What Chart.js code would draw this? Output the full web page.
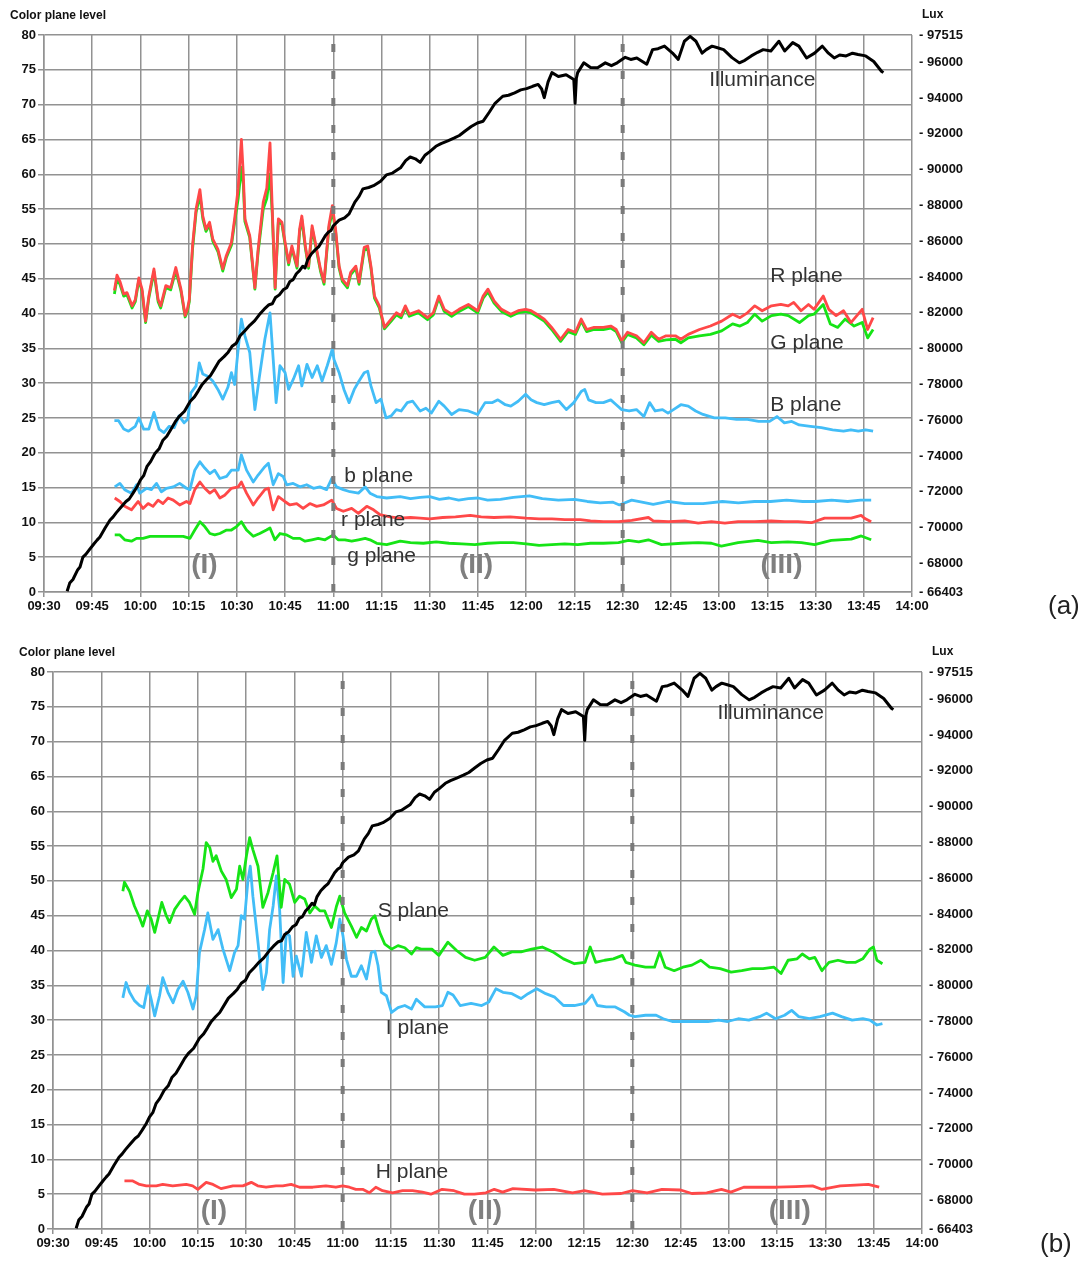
<!DOCTYPE html>
<html>
<head>
<meta charset="utf-8">
<script src="https://cdn.jsdelivr.net/npm/chart.js@4.4.0/dist/chart.umd.min.js"></script>
<style>
  body { margin: 0; background: #fff; }
  #wrap { position: relative; width: 1088px; height: 1262px; }
  .panel { position: absolute; left: 0; }
</style>
</head>
<body>
<div id="wrap">
  <div class="panel" style="top:0"><canvas id="chartA" width="1088" height="632"></canvas></div>
  <div class="panel" style="top:632px"><canvas id="chartB" width="1088" height="630"></canvas></div>
</div>
<script>
// x values are minutes after 09:30
const timeTicksStep = 15;
const phaseBreaks = [90, 180]; // 11:00 and 12:30
const luxTicks = [66403, 68000, 70000, 72000, 74000, 76000, 78000, 80000, 82000, 84000, 86000, 88000, 90000, 92000, 94000, 96000, 97515];
const phaseNames = ['(I)', '(II)', '(III)'];

// Illuminance (Lux), same record on both panels
const illuminance = [
  [7.2,66442],[8,66900],[9,67100],[10.5,67650],[11.2,67800],[12.1,68348],[13,68500],[14,68740],[15.5,69085],[16.5,69300],
  [17.4,69475],[19,69980],[20.5,70409],[21.5,70600],[22.5,70836],[24,71150],[25.5,71460],[26.5,71600],[27.7,71925],
  [29,72300],[30,72665],[31,72900],[32,73403],[33.2,73700],[34.5,74140],[35.8,74400],[37,74881],[38.2,75100],[39.5,75500],
  [40.8,75900],[42,76200],[43.7,76500],[45.5,77059],[46.8,77300],[48,77640],[49.2,78000],[50.5,78260],[51.8,78500],
  [53,78850],[54.5,79300],[56,79550],[57.3,79800],[58.5,80130],[59.8,80300],[61,80714],[62.5,81000],[64,81300],
  [65.5,81550],[67,81900],[68.5,82200],[70,82450],[71,82500],[72,82850],[73.2,83000],[74.4,83281],[75.5,83400],
  [76.5,83750],[77.5,83850],[78.5,84180],[79.5,84350],[80.5,84600],[81.2,84500],[82,84953],[83.2,85300],[84.5,85540],
  [85.5,85700],[86.5,86000],[87.5,86300],[88.5,86510],[89.3,86600],[90,86860],[91.8,87170],[93.5,87300],[94.9,87520],
  [96.7,88181],[98,88500],[99.2,88920],[101,88998],[102.5,89100],[104.7,89350],[106.5,89700],[108.4,89800],[110.9,90100],
  [112.5,90500],[113.9,90700],[115.5,90600],[117,90400],[118.5,90800],[120,91000],[121.9,91300],[123.5,91450],
  [125.6,91600],[127.5,91750],[129.2,91900],[131,92150],[132.9,92400],[134.8,92600],[136.6,92700],[138.5,93200],
  [140.3,93700],[142.7,94093],[144.5,94150],[146.4,94287],[148.3,94450],[150.1,94521],[152,94650],[153.7,94754],
  [154.8,94500],[155.6,94015],[156.8,94900],[158,95415],[160,95200],[162.4,95298],[164.8,95026],[165.2,93700],
  [165.6,95100],[166,95415],[167.9,95959],[170,95700],[172.2,95687],[174.6,95959],[176.5,95800],[178.3,95959],
  [180.8,96270],[182.5,96150],[184.4,96232],[186,96050],[187.5,95882],[189.3,96698],[191,96750],[193,96893],
  [195.5,96504],[197.3,96153],[199.2,97165],[201,97437],[202.8,97165],[204.7,96504],[206,96700],[207.8,96893],
  [209.5,96800],[211.4,96698],[214,96250],[216.3,95959],[218,96100],[220,96348],[222,96550],[223.7,96698],[226.1,96620],
  [228.6,97165],[230.4,96620],[232.9,97087],[234.8,96893],[237.2,96232],[239.7,96504],[242.1,96893],[244,96500],
  [245.8,96232],[247.5,96400],[249.5,96348],[251.5,96500],[253.2,96426],[255.6,96348],[258.1,96037],[260.5,95493],
  [261.1,95415]
];

// panel (a): R, G, B planes
const rPlane = [
  [21.9,43.3],[22.7,45.5],[23.7,44.5],[24.8,42.8],[25.8,43],[27.4,41.1],[28.4,42],[29.5,45.1],[30.5,43.5],[31.6,38.9],
  [32.6,42.5],[34.2,46.4],[35.5,42],[36.3,41.1],[37.9,44],[39.4,43.7],[41,46.6],[42.6,43.5],[43.9,39.7],[44.6,40.6],
  [45.2,42],[46.2,49.7],[47.3,55],[48.5,57.8],[49.4,54],[50.4,52.1],[51.5,53.1],[52.5,50.7],[54.1,49.2],[55.6,46.4],
  [56.7,48.3],[58.3,50.2],[59.3,53.6],[60.4,58],[61.4,65],[62,60],[62.5,53.6],[64,51.2],[65.6,43.7],[66.6,49.2],
  [68.2,56],[69.3,58],[70.3,64.5],[71,55],[71.9,43.7],[72.9,53.6],[74,53.1],[75,50.2],[76.1,47.3],[77.1,49.7],
  [78.7,46.8],[79.5,52.1],[80.2,54],[81.3,49.7],[82.3,46.8],[83.4,52.6],[84.4,50.2],[86,46.4],[87.1,44.5],[88.6,52.6],
  [89.7,55.5],[90.7,52.1],[91.8,46.8],[92.8,44.9],[94.4,44],[95.4,45.9],[97,46.8],[98,44.5],[99.6,49.5],[100.7,49.7],
  [101.7,46.8],[102.8,42.5],[104.3,41.1],[105.9,38],[108,39.2],[109.6,40.1],[111.1,39.7],
  [112.4,41.1],[113.6,39.9],[116.5,40.4],[119.3,39.4],[121.1,40.1],[122.8,42.5],[124.5,40.6],[126.8,39.9],[129.1,40.6],
  [132,41.3],[134.9,40.4],[136.6,42.5],[138.1,43.5],[140,41.8],[142.3,40.6],[145.2,39.9],[147.5,40.4],[149.8,40.6],
  [151.5,40.4],[153.3,39.9],[155.6,39.2],[157.9,38],[160.7,36.3],[163,37.7],[165.3,37.3],[167.1,39.2],[168.8,37.7],
  [171.1,38],[174,38],[176.3,38.2],[178,37.7],[179.7,36.1],[181.5,37.3],[184.3,36.8],[186.6,35.8],[188.9,37.3],
  [191.2,36.3],[193.5,36.8],[196.4,36.8],[198.1,36.3],[200.4,37],[203.9,37.7],[207.3,38.2],[210.8,38.9],[214.2,39.9],
  [216.5,39.4],[218.8,40.1],[221.1,41.1],[223.4,40.4],[226.3,41.1],[229.2,41.3],[231.5,41.1],[233.2,41.6],[235.5,40.4],
  [237.8,41.3],[239.5,40.6],[242.4,42.5],[244.1,40.6],[246.4,39.7],[248.7,40.4],[251,38.7],[254.5,40.6],[256.2,37.7],
  [257.9,39.4]
];
const gPlane = [
  [21.9,42.8],[22.7,45],[23.7,44.1],[24.8,42.5],[25.8,42.7],[27.4,40.8],[28.4,41.7],[29.5,44.8],[30.5,43.2],[31.6,38.7],
  [32.6,42.2],[34.2,46],[35.5,41.7],[36.3,40.8],[37.9,43.7],[39.4,43.4],[41,46.2],[42.6,43.2],[43.9,39.5],[44.6,40.3],
  [45.2,41.7],[46.2,49.2],[47.3,54.5],[48.5,57],[49.4,53.6],[50.4,51.8],[51.5,52.7],[52.5,50.4],[54.1,48.9],[55.6,46.1],
  [56.7,48],[58.3,49.8],[59.3,53.1],[60.4,56.5],[61.4,61],[62,58.5],[62.5,53.2],[64,50.9],[65.6,43.5],[66.6,48.8],
  [68.2,55],[69.3,56.5],[70.3,60],[71,54.3],[71.9,43.5],[72.9,53.2],[74,52.8],[75,49.9],[76.1,47],[77.1,49.4],
  [78.7,46.5],[79.5,51.7],[80.2,53.5],[81.3,49.4],[82.3,46.5],[83.4,52.2],[84.4,49.9],[86,46.1],[87.1,44.2],[88.6,52.2],
  [89.7,54.8],[90.7,51.8],[91.8,46.5],[92.8,44.6],[94.4,43.7],[95.4,45.6],[97,46.5],[98,44.2],[99.6,49.1],[100.7,49.3],
  [101.7,46.5],[102.8,42.2],[104.3,40.8],[105.9,37.8],[108,38.9],[109.6,39.8],[111.1,39.4],
  [112.4,40.8],[113.6,39.6],[116.5,40.1],[119.3,39.1],[121.1,39.8],[122.8,42.2],[124.5,40.3],[126.8,39.6],[129.1,40.3],
  [132,41],[134.9,40.1],[136.6,42.2],[138.1,43.1],[140,41.5],[142.3,40.3],[145.2,39.6],[147.5,40.1],[149.8,40.3],
  [151.5,40.1],[153.3,39.6],[155.6,38.9],[157.9,37.7],[160.7,36],[163,37.4],[165.3,37],[167.1,38.9],[168.8,37.4],
  [171.1,37.7],[174,37.7],[176.3,37.9],[178,37.4],[179.7,35.8],[181.5,37],[184.3,36.5],[186.6,35.5],[188.9,36.9],
  [191.2,36],[193.5,36.2],[196.4,36.3],[198.1,35.8],[200.4,36.5],[203.9,36.8],[207.3,37],[210.8,37.5],[214.2,38.5],
  [216.5,38.2],[218.8,38.7],[221.1,39.9],[223.4,38.9],[226.3,39.7],[229.2,39.9],[231.5,39.7],[235,38.7],[237.8,39.7],
  [239.5,39.9],[242.4,41.3],[244.6,38.5],[246.9,38],[249.2,39.2],[252,38.2],[254.5,38.7],[256.2,36.5],[257.9,37.7]
];
const bPlane = [
  [21.9,24.6],[23.2,24.6],[24.8,23.4],[26.3,23.1],[28.4,23.8],[29.5,25],[31,23.4],[32.6,23.4],[34.2,25.8],[35.8,23.4],
  [37.3,22.9],[38.9,23.8],[40.5,23.6],[42,25.3],[43.6,24.3],[44.7,24.8],[45.7,28.6],[47.3,29.6],[48.3,32.9],[49.4,31.3],
  [50.9,31],[52.5,30.3],[54.1,29.1],[55.6,27.7],[57.2,29.4],[58.3,31.5],[59.3,29.8],[60.4,34.9],[61.4,39.2],[62.5,36.8],
  [64,34.4],[65.6,26.2],[66.9,30.6],[68.7,36.3],[70.3,40.1],[71.3,33.4],[72.2,27.2],[73.4,32.5],[75,31.5],[76.1,29.1],
  [77.6,30.6],[79.2,32.5],[80.2,29.6],[81.8,32.7],[83.4,30.8],[85,32.5],[86.5,30.3],[88.1,32.5],[89.7,34.9],[90.2,33.4],
  [91.8,31.5],[93.3,29.1],[94.9,27.2],[96.5,29.1],[98,30.3],[99.6,31.5],[100.7,31.7],[101.7,29.6],[103.3,27.2],[104.8,27.7],
  [106.4,25],[108,25.3],[109.6,26.2],[111.1,26],
  [113,27.2],[114.7,27.4],[117,26],[118.8,26.4],[120.5,25.7],[122.8,27.4],[124.5,26.7],[126.8,25.5],[129.1,26.2],[132,26],
  [134.9,25.5],[137.2,27.2],[139.5,27.2],[141.2,27.6],[143.5,26.9],[145.2,26.7],[147.5,27.4],[149.8,28.4],[151.5,27.6],
  [153.3,27.2],[155.6,26.9],[157.9,27.2],[160.2,27.4],[162.5,26.2],[164.8,27.2],[167.1,28.8],[168.2,29.1],[169.4,27.6],
  [171.7,27.2],[174,27.2],[176.3,27.6],[178,26.9],[179.7,26.2],[182,26],[184.3,26.2],[186.6,25.2],[188.4,27.2],[190.1,26],
  [192.4,26.2],[194.1,25.7],[195.8,26.2],[198.1,26.9],[200.4,26.7],[202.7,26],[205,25.5],[208.5,25],[211.9,25],[215.4,24.8],
  [218.8,24.8],[222.3,24.5],[225.7,24.5],[228,25.2],[230.3,24.3],[232.6,24.5],[234.9,24],[238.4,23.8],[241.8,23.6],
  [245.3,23.3],[248.7,23.1],[251,23.3],[253.3,23.1],[255.6,23.3],[257.9,23.1]
];

// panel (a): normalised b, r, g planes
const bNorm = [
  [22,15.1],[23.6,15.6],[25.1,14.7],[27.2,14.2],[28.8,15.4],[29.8,14.2],[31.9,14.9],[33.4,14.7],[35,15.6],[36.5,14.4],
  [38.1,14.9],[40.2,15.1],[42.2,15.6],[44.3,14.9],[45.4,14.7],[46.9,17.5],[48.5,18.7],[50,17.8],[51.6,17],[53.1,17.5],
  [54.7,16.3],[56.8,16.6],[58.3,17.5],[60.4,17.5],[61.4,19.7],[63,17.5],[65.1,15.8],[66.6,16.8],[68.7,18],[69.8,18.5],
  [71.3,15.4],[72.9,17],[74.4,16.6],[75.5,15.4],[77.5,15.6],[79.6,15.1],[81.7,15.4],[83.8,14.9],[85.8,15.1],[87.9,14.7],
  [89.5,16.3],[91,15.1],[93.1,14.7],[95.2,14.4],[97.8,14.2],[99.9,15.1],[101.4,14.2],[103.5,13.7],[106.6,13.5],[110.8,13.7],
  [114,13.4],[117,13.6],[120,13.7],[123,13.3],[126,13.5],[129,13.2],[132,13.4],[135,13.5],[138,13.2],[142,13.3],
  [146,13.6],[151,13.8],[155,13.4],[160,13.2],[165,13.3],[169,13],[173,12.8],[177,12.9],[179,12.5],[182.8,13.2],
  [186,12.9],[189.5,12.6],[194.2,13],[199.3,12.7],[205,12.7],[211,13],[216,12.8],[221,13],[226,13],[231,13.2],
  [236,13],[240,13],[245,13.2],[250,13],[254,13.2],[257.3,13.2]
];
const rNorm = [
  [22,13.5],[23.6,13],[25.1,12.3],[27.2,11.8],[29.3,13],[30.8,12],[32.4,12.7],[33.9,12.3],[35.5,13.2],[37,12.7],
  [38.6,13.5],[40.2,13.2],[42.2,12.5],[44.3,13],[45.4,12.7],[46.9,14.7],[48.5,15.8],[50,14.9],[51.6,14.2],[53.1,14.7],
  [54.7,13.5],[56.2,13.9],[58.3,14.9],[60.4,15.1],[61.4,15.8],[63,14.2],[65.1,12.5],[66.6,13.5],[68.7,14.7],[69.8,14.9],
  [71.3,11.8],[72.9,13.7],[74.9,13],[76.5,12.5],[78.6,12.7],[80.6,12],[82.7,12.7],[84.8,12.3],[86.9,12.5],[89.5,13.2],
  [91,12],[93.1,11.6],[95.7,12],[97.8,11.3],[100.4,12.3],[102.5,11.8],[104.5,11.1],[107.6,10.8],[110.8,10.6],
  [114,10.7],[117,10.6],[120,10.5],[124,10.7],[128,10.8],[132.6,11],[136,10.8],[140,10.7],[145,10.8],[150,10.6],
  [154,10.5],[158,10.5],[162,10.4],[166.8,10.4],[170,10.2],[174,10.1],[178.7,10.1],[182.8,10.3],[188,10.7],[189.5,10.2],
  [194.2,10.1],[199.3,10.2],[203.5,9.9],[207.6,10.1],[211.8,9.9],[215.9,10.1],[221.1,10.1],[226.2,10.2],[230.4,10.1],
  [234.5,10.1],[238.7,9.95],[242.8,10.6],[246.9,10.6],[251.1,10.6],[254.2,11],[255.2,10.6],[257.3,10.1]
];
const gNorm = [
  [22,8.2],[23.6,8.2],[25.1,7.5],[27.2,7.3],[28.8,7.7],[30.8,7.7],[33,8],[35,8],[37.1,8],[39.2,8],
  [41.2,8],[43.3,8],[45.4,7.7],[46.9,8.9],[48.5,10.1],[50,9.4],[51.6,8.4],[53.1,8.2],[54.7,8.4],[56.8,8.9],
  [58.3,8.9],[59.9,9.4],[61.4,10.1],[63,8.9],[65.1,8],[67.1,8.4],[69.2,8.9],[70.3,9.2],[71.8,7.5],[73.4,8.4],
  [75.5,8.2],[77.5,7.7],[79.6,7.7],[81.2,7.3],[83.3,7.5],[85.3,7.7],[87.4,7.5],[90,8.2],[91.5,7.5],[93.6,7.5],
  [95.7,7.3],[97.8,7.5],[99.9,7.7],[101.4,7.5],[103.5,7],[106.6,6.8],[110.8,7.3],
  [114,7.1],[118,7],[122,7.2],[126,7],[130,6.9],[134,6.8],[138,7],[142,7.1],[146,7.1],[150,6.9],
  [154,6.7],[158,6.8],[162,6.9],[166,6.8],[170,7],[174,7],[178.7,7.1],[181.8,7.4],[185,7.2],[188,7.5],
  [192.1,6.8],[198.3,7],[203.5,7.1],[207.6,7],[210.7,6.6],[215.9,7.1],[222.1,7.4],[226.2,7.1],[231.4,7.2],
  [235.6,7.1],[239.7,6.8],[244.9,7.4],[251.1,7.6],[254.2,8.05],[257.3,7.5]
];

// panel (b): S, I, H planes
const sPlane = [
  [21.7,48.5],[22.2,49.8],[23.8,48.5],[25.3,46.4],[26.9,44.7],[27.9,43.5],[29.3,45.7],[30.5,44.5],[31.6,42.6],[32.6,44.5],
  [33.8,46.9],[35.2,45],[36.2,44],[37.8,45.9],[39.3,46.9],[40.9,47.8],[42.4,46.9],[44,45.2],[45,48.3],[46.6,51.7],
  [47.6,55.5],[48.7,54.8],[49.7,52.8],[50.7,53.6],[52.3,51.4],[53.8,50.2],[55.4,47.6],[57,48.8],[58,52.1],[59,50.2],
  [60.1,53.6],[61.1,56.2],[62.1,54.5],[63.7,52.1],[65.2,46.2],[66.8,48.3],[68.4,51.2],[69.6,53.6],[70.9,46.2],[72,50.2],
  [73.5,49.5],[75.1,46.9],[76.6,47.8],[78.2,47.4],[79.8,45.4],[81.3,46.4],[82.9,45.7],[84.4,45.7],[86.5,43.3],[88.1,46.4],
  [89.1,47.8],[90.6,45.4],[92.7,43.5],[94.3,41.9],[95.8,43.3],[97.4,42.8],[98.9,44.5],[100,45],[101.5,42.6],[103.1,40.9],
  [105.2,40.2],[107.2,40.7],[109.3,40.4],[111.4,39.5],[112.9,40.4],
  [114.4,40.2],[117.7,40.2],[119.9,39.3],[122.7,41.2],[125.4,40],[128.2,39],[131,38.6],[134.3,39],[137,40.5],[139.8,39.3],
  [142.6,39.8],[145.4,39.8],[148.7,40.2],[152,40.5],[155.3,39.8],[158.6,38.8],[162,38.1],[165.3,38.3],[166.9,40.5],
  [168.6,38.3],[171.4,38.6],[174.1,38.8],[176.9,39.3],[178,38.3],[180.8,37.9],[184.1,37.6],[186.9,37.6],[188.5,39.8],
  [190.2,37.6],[193,37.1],[195.7,37.6],[198.5,37.9],[201.3,38.6],[204,37.6],[207.3,37.4],[210.7,36.9],[214,37.1],
  [217.3,37.4],[220.6,37.4],[224,37.6],[226.2,36.7],[228.4,38.6],[231.2,38.8],[232.8,39.5],[235,38.8],[236.7,39],
  [238.9,37.1],[241.1,38.3],[243.9,38.6],[246.6,38.3],[249.4,38.3],[251.6,38.8],[253.8,40.2],[254.9,40.5],[256,38.6],
  [257.7,38.1]
];
const iPlane = [
  [21.7,33.2],[22.7,35.4],[23.8,34],[25.3,32.8],[26.9,32.1],[28.2,31.8],[29.5,34.9],[30.5,33],[31.6,30.6],[33.1,33.5],
  [34.1,36.1],[35.7,34],[37.3,32.5],[38.8,34.4],[40.4,35.6],[41.9,34],[43.5,31.6],[44.5,33.5],[45.5,39.7],[47.1,43],
  [48.1,45.4],[49.7,41.6],[51.3,43],[52.8,40.2],[54.9,37.1],[56.4,39.7],[57.5,40.7],[58.5,45],[59.5,44.5],[60.6,50.2],
  [61.3,52.1],[62.1,47.8],[63.7,41.1],[65.2,34.4],[66.3,36.8],[67.3,43],[68.4,46.4],[69.4,50.7],[70.4,46],[71.5,35.4],
  [72.5,42.6],[73.5,42.1],[74.6,36.3],[75.6,39.2],[77.2,36.3],[78.7,42.6],[80.3,38.3],[81.8,42.1],[83.4,39],[84.9,40.7],
  [86.5,38],[88,41.1],[89.1,44.5],[90.1,42.1],[91.2,38.7],[92.7,36.3],[94.3,36.3],[95.8,37.8],[97.4,35.9],[98.9,39.7],
  [100,39.9],[101,37.8],[102,34],[103.6,33.5],[105.2,31.1],[107.2,31.8],[109.3,32.1],[111.4,31.6],[112.9,33],
  [115.5,31.9],[118.8,31.9],[121,32.1],[122.7,34],[124.3,33.6],[126.5,32.1],[129.9,32.4],[133.2,32.1],[135.4,32.6],
  [137.6,34.5],[139.8,34],[142.6,33.8],[145.4,33.1],[147.6,33.8],[150.3,34.5],[153.1,33.8],[155.9,33.3],[158.6,32.1],
  [162,32.1],[165.3,32.4],[167.5,33.6],[169.1,32.1],[171.9,31.9],[174.7,31.9],[177.5,31.2],[179.1,30.7],[180.8,30.5],
  [184.1,30.7],[187.4,30.7],[189.6,30.2],[192.4,29.8],[195.7,29.8],[199.6,29.8],[203.5,29.8],[206.8,30],[209.6,29.8],
  [212.9,30.2],[216.2,30],[219.5,30.5],[221.7,31],[224.5,30.2],[227.3,30.7],[229.5,31.4],[231.7,30.5],[235,30.2],
  [238.3,30.5],[242.2,31],[245,30.5],[248.3,30],[251.6,30.2],[253.8,30],[256,29.3],[257.7,29.5]
];
const hPlane = [
  [22.2,6.9],[24.8,6.9],[26.9,6.4],[29,6.2],[32.1,6.2],[34.1,6.4],[37.2,6.2],[41.4,6.4],[43.4,6.2],[45,5.7],
  [47.6,6.7],[49.7,6.4],[52.2,5.8],[55.9,6.2],[59,6.2],[61.6,6.7],[63.6,6.2],[66.2,6],[69.3,6.2],[71.4,6.2],
  [74,6.4],[76.6,6],[80.7,6],[84.8,6.2],[87.9,6],[90,6.2],[92.1,6],[94.1,5.7],[96.2,5.7],[98.3,5.2],
  [100.3,6],[102.4,5.5],[105.5,5.2],[108.6,5.5],[111.7,5.5],[114.8,5.3],[117.4,5],[120.9,5.7],[124.6,5.5],[127.8,5],
  [130.9,5],[134.5,5.2],[137.1,5.7],[139.7,5.3],[142.9,5.8],[149.8,5.6],[155.6,5.7],[161.4,5.2],[165.1,5.5],[170.7,5],
  [176.5,5.1],[180,5.5],[184.6,5.2],[189.2,5.7],[195,5.6],[198.5,5.1],[203.1,5.2],[207.7,5.7],[210.6,5.3],[214.6,6],
  [219.2,6],[225,6],[230.8,6.1],[236,6.2],[238.8,5.7],[244.6,6.2],[249.2,6.3],[253.3,6.4],[256.7,6]
];

const RED = '#ff4848';
const GREEN = '#16e416';
const BLUE = '#42bdf7';
const GRID = '#929292';
const TICK_FONT = { family: "'Liberation Sans', Arial, sans-serif", size: 13, weight: 'bold' };

// minutes after 09:30 -> "HH:MM"
const toClock = (v) => {
  const t = 570 + v;
  const h = Math.floor(t / 60);
  const m = t % 60;
  return String(h).padStart(2, '0') + ':' + String(m).padStart(2, '0');
};

// text labels, axis titles and the (a)/(b) tag
const notesPlugin = {
  id: 'notes',
  afterDatasetsDraw(chart, args, opts) {
    const { ctx, chartArea, scales } = chart;
    ctx.save();
    ctx.textBaseline = 'middle';

    ctx.fillStyle = '#333';
    ctx.font = "21px 'Liberation Sans', Arial, sans-serif";
    ctx.textAlign = 'left';
    opts.labels.forEach((l) => {
      ctx.fillText(l.text, scales.x.getPixelForValue(l.x), scales.y.getPixelForValue(l.y));
    });

    ctx.fillStyle = '#7f7f7f';
    ctx.font = "bold 28px 'Liberation Sans', Arial, sans-serif";
    ctx.textAlign = 'center';
    phaseNames.forEach((p, i) => {
      ctx.fillText(p, scales.x.getPixelForValue(opts.phaseX[i]), scales.y.getPixelForValue(opts.phaseY));
    });

    ctx.fillStyle = '#111';
    ctx.font = "bold 12px 'Liberation Sans', Arial, sans-serif";
    ctx.textAlign = 'left';
    ctx.fillText('Color plane level', chartArea.left - 34, chartArea.top - 19);
    ctx.fillText('Lux', chartArea.right + 10, chartArea.top - 20);

    ctx.fillStyle = '#222';
    ctx.font = "26px 'Liberation Sans', Arial, sans-serif";
    ctx.fillText(opts.tag, opts.tagX, opts.tagY);
    ctx.restore();
  }
};

const line = (data, color, axis = 'y', width = 2.8) => ({
  data,
  borderColor: color,
  borderWidth: width,
  pointRadius: 0,
  tension: 0,
  fill: false,
  borderJoinStyle: 'round',
  yAxisID: axis
});

const breakLines = () => phaseBreaks.map((t) => ({
  data: [[t, 0], [t, 80]],
  borderColor: '#7a7a7a',
  borderWidth: 4,
  borderDash: [8, 19],
  pointRadius: 0,
  yAxisID: 'y'
}));

function buildChart(id, box, datasets, notes) {
  const ctx = document.getElementById(id).getContext('2d');
  return new Chart(ctx, {
    type: 'line',
    data: { datasets },
    plugins: [notesPlugin],
    options: {
      responsive: false,
      animation: false,
      layout: { padding: { top: box.top, left: 0, right: 0, bottom: 0 } },
      plugins: {
        legend: { display: false },
        tooltip: { enabled: false },
        notes
      },
      scales: {
        x: {
          type: 'linear',
          min: 0,
          max: 270,
          afterFit: (s) => { s.height = box.height - box.bottom; },
          ticks: { stepSize: timeTicksStep, callback: toClock, font: TICK_FONT, color: '#111', padding: 2, maxRotation: 0 },
          grid: { color: GRID, lineWidth: 1.5, tickLength: 5 },
          border: { color: GRID, width: 1.5 }
        },
        y: {
          position: 'left',
          min: 0,
          max: 80,
          afterFit: (s) => { s.width = box.left; },
          ticks: { stepSize: 5, font: TICK_FONT, color: '#111', padding: 2 },
          grid: { color: GRID, lineWidth: 1.5, tickLength: 6 },
          border: { color: GRID, width: 1.5 }
        },
        yLux: {
          position: 'right',
          min: 66403,
          max: 97515,
          afterFit: (s) => { s.width = 1088 - box.right; },
          afterBuildTicks: (s) => { s.ticks = luxTicks.map((v) => ({ value: v })); },
          ticks: { callback: (v) => '- ' + v, font: TICK_FONT, color: '#111', padding: 7 },
          grid: { drawOnChartArea: false, drawTicks: false },
          border: { display: false }
        }
      }
    }
  });
}

// panel (a)
buildChart('chartA', { left: 44, right: 912, top: 35, bottom: 592, height: 632 }, [
  ...breakLines(),
  line(illuminance, '#000', 'yLux', 3),
  line(rPlane, RED),
  line(gPlane, GREEN),
  line(bPlane, BLUE),
  line(bNorm, BLUE),
  line(rNorm, RED),
  line(gNorm, GREEN)
], {
  labels: [
    { text: 'Illuminance', x: 206.9, y: 73.5 },
    { text: 'R plane', x: 225.9, y: 45.3 },
    { text: 'G plane', x: 225.9, y: 35.7 },
    { text: 'B plane', x: 225.9, y: 26.8 },
    { text: 'b plane', x: 93.4, y: 16.7 },
    { text: 'r plane', x: 92.4, y: 10.3 },
    { text: 'g plane', x: 94.3, y: 5.1 }
  ],
  phaseX: [49.9, 134.4, 229.4],
  phaseY: 3.9,
  tag: '(a)', tagX: 1048, tagY: 607
});

// panel (b)
buildChart('chartB', { left: 53, right: 922, top: 40, bottom: 597, height: 630 }, [
  ...breakLines(),
  line(illuminance, '#000', 'yLux', 3),
  line(sPlane, GREEN),
  line(iPlane, BLUE),
  line(hPlane, RED)
], {
  labels: [
    { text: 'Illuminance', x: 206.5, y: 74.1 },
    { text: 'S plane', x: 100.9, y: 45.6 },
    { text: 'I plane', x: 103.4, y: 28.8 },
    { text: 'H plane', x: 100.3, y: 8.1 }
  ],
  phaseX: [50, 134.2, 228.9],
  phaseY: 2.5,
  tag: '(b)', tagX: 1040, tagY: 613
});
</script>
</body>
</html>
